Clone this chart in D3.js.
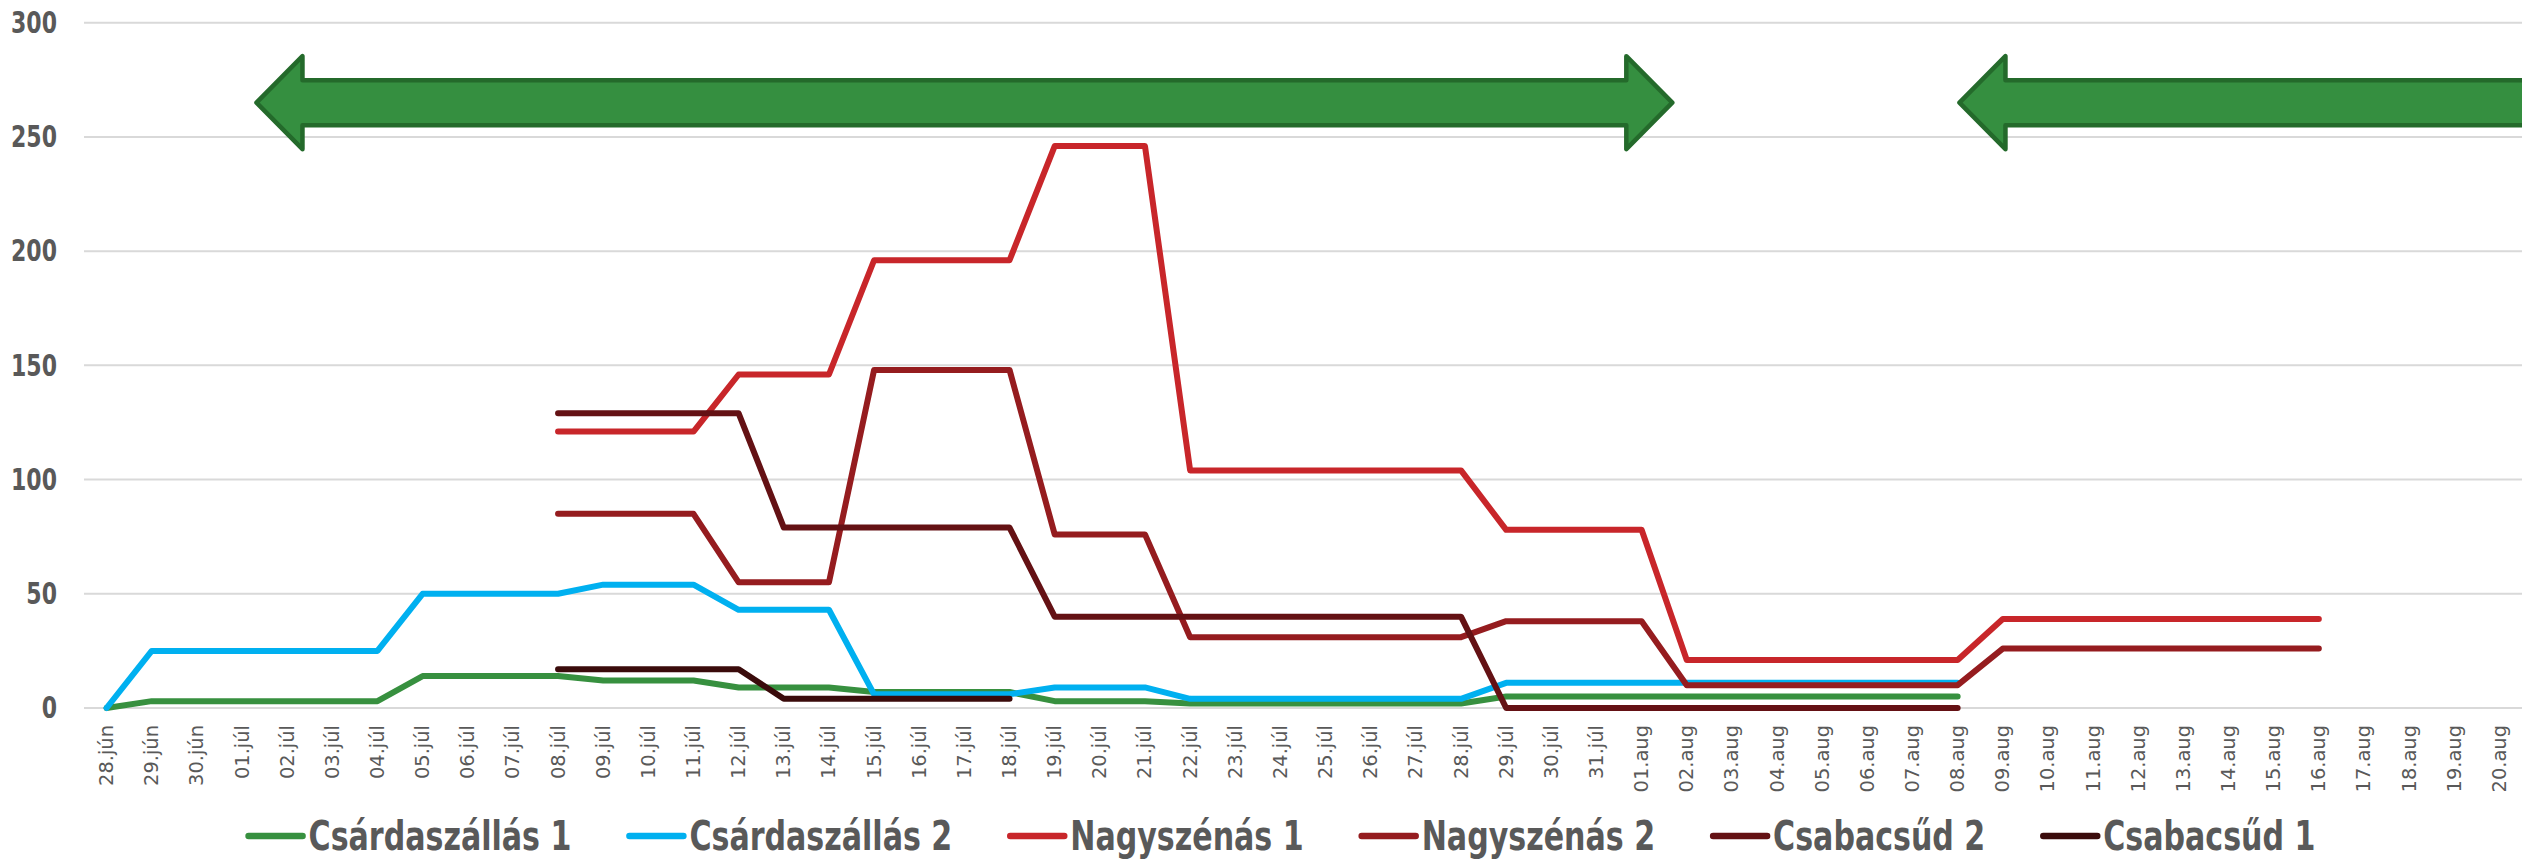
<!DOCTYPE html>
<html>
<head>
<meta charset="utf-8">
<script src="https://cdn.jsdelivr.net/npm/d3@7"></script>
<style>
	html, body { margin: 0; padding: 0; background: #ffffff; }
	svg { display: block; }
</style>
</head>
<body>
<div id="chart"></div>
<script>

// (data) Dates on the category axis
var categories = [
	"28.jún", "29.jún", "30.jún",
	"01.júl", "02.júl", "03.júl", "04.júl", "05.júl", "06.júl", "07.júl", "08.júl", "09.júl", "10.júl",
	"11.júl", "12.júl", "13.júl", "14.júl", "15.júl", "16.júl", "17.júl", "18.júl", "19.júl", "20.júl",
	"21.júl", "22.júl", "23.júl", "24.júl", "25.júl", "26.júl", "27.júl", "28.júl", "29.júl", "30.júl", "31.júl",
	"01.aug", "02.aug", "03.aug", "04.aug", "05.aug", "06.aug", "07.aug", "08.aug", "09.aug", "10.aug",
	"11.aug", "12.aug", "13.aug", "14.aug", "15.aug", "16.aug", "17.aug", "18.aug", "19.aug", "20.aug"
];

// (data) Series values, one per date (null = no reading)
var csardaszallas1 = [
	0, 3, 3,
	3, 3, 3, 3, 14, 14, 14, 14, 12, 12,
	12, 9, 9, 9, 7, 7, 7, 7, 3, 3,
	3, 2, 2, 2, 2, 2, 2, 2, 5, 5, 5,
	5, 5, 5, 5, 5, 5, 5, 5, null, null,
	null, null, null, null, null, null, null, null, null, null
];
var csardaszallas2 = [
	0, 25, 25,
	25, 25, 25, 25, 50, 50, 50, 50, 54, 54,
	54, 43, 43, 43, 6, 6, 6, 6, 9, 9,
	9, 4, 4, 4, 4, 4, 4, 4, 11, 11, 11,
	11, 11, 11, 11, 11, 11, 11, 11, null, null,
	null, null, null, null, null, null, null, null, null, null
];
var nagyszenas1 = [
	null, null, null,
	null, null, null, null, null, null, null, 121, 121, 121,
	121, 146, 146, 146, 196, 196, 196, 196, 246, 246,
	246, 104, 104, 104, 104, 104, 104, 104, 78, 78, 78,
	78, 21, 21, 21, 21, 21, 21, 21, 39, 39,
	39, 39, 39, 39, 39, 39, null, null, null, null
];
var nagyszenas2 = [
	null, null, null,
	null, null, null, null, null, null, null, 85, 85, 85,
	85, 55, 55, 55, 148, 148, 148, 148, 76, 76,
	76, 31, 31, 31, 31, 31, 31, 31, 38, 38, 38,
	38, 10, 10, 10, 10, 10, 10, 10, 26, 26,
	26, 26, 26, 26, 26, 26, null, null, null, null
];
var csabacsud2 = [
	null, null, null,
	null, null, null, null, null, null, null, 129, 129, 129,
	129, 129, 79, 79, 79, 79, 79, 79, 40, 40,
	40, 40, 40, 40, 40, 40, 40, 40, 0, 0, 0,
	0, 0, 0, 0, 0, 0, 0, 0, null, null,
	null, null, null, null, null, null, null, null, null, null
];
var csabacsud1 = [
	null, null, null,
	null, null, null, null, null, null, null, 17, 17, 17,
	17, 17, 4, 4, 4, 4, 4, 4, null, null,
	null, null, null, null, null, null, null, null, null, null, null,
	null, null, null, null, null, null, null, null, null, null,
	null, null, null, null, null, null, null, null, null, null
];

var seriesNames = ["Csárdaszállás 1", "Csárdaszállás 2", "Nagyszénás 1", "Nagyszénás 2", "Csabacsűd 2", "Csabacsűd 1"];
var seriesValues = [csardaszallas1, csardaszallas2, nagyszenas1, nagyszenas2, csabacsud2, csabacsud1];
var seriesColors = ["#37903f", "#00b0f0", "#c8262a", "#951c1f", "#641114", "#3a0b0b"];

// (data) Value axis ticks
var yTicks = [0, 50, 100, 150, 200, 250, 300];

// (data) Green period arrows, in category index units [from, to, double headed]
var arrows = [[3.32, 34.68, true], [41.04, 54.5, false]];

var width = 2522, height = 861;
var textColor = "#595959";
var gridColor = "#d9d9d9";
var boldFont = "'DejaVu Sans', sans-serif";

var svg = d3.select("#chart")
	.append("svg")
	.attr("width", width)
	.attr("height", height)
	.style("background", "#ffffff");

// (scales) Category band and value scale
var x = d3.scaleBand()
	.domain(categories)
	.range([84, width])
	.paddingInner(0)
	.paddingOuter(0);
var xc = function(i) { return x(categories[i]) + x.bandwidth() / 2; };
var xIdx = d3.scaleLinear()
	.domain([0, categories.length - 1])
	.range([xc(0), xc(categories.length - 1)]);
var y = d3.scaleLinear()
	.domain([0, 300])
	.range([708, 22.7]);

// (grid) Horizontal gridlines
svg.append("g")
	.selectAll("line")
	.data(yTicks)
	.enter()
	.append("line")
	.attr("x1", 84)
	.attr("x2", width)
	.attr("y1", function(d) { return y(d); })
	.attr("y2", function(d) { return y(d); })
	.attr("stroke", gridColor)
	.attr("stroke-width", 2);

// (y_axis) Value labels, narrowed with a horizontal scale
var yGroups = svg.append("g")
	.selectAll("g")
	.data(yTicks)
	.enter()
	.append("g");
var yLabels = yGroups.append("text")
	.attr("text-anchor", "end")
	.attr("dominant-baseline", "central")
	.attr("font-family", boldFont)
	.attr("font-weight", "bold")
	.attr("font-size", "30px")
	.attr("fill", textColor)
	.text(function(d) { return d; });
var kY = 46 / yLabels.filter(function(d) { return d === 300; }).node().getComputedTextLength();
yGroups.attr("transform", function(d) { return "translate(57," + y(d) + ") scale(" + kY + ",1)"; });

// (x_axis) Rotated date labels
var xLabels = svg.append("g")
	.selectAll("text")
	.data(categories)
	.enter()
	.append("text")
	.attr("transform", function(d, i) { return "translate(" + xc(i) + ",725) rotate(-90)"; })
	.attr("text-anchor", "end")
	.attr("dominant-baseline", "central")
	.attr("font-family", "'DejaVu Sans', sans-serif")
	.attr("font-size", "19px")
	.attr("fill", textColor)
	.text(function(d) { return d; });
var w0 = xLabels.node().getComputedTextLength();
xLabels.attr("font-size", (19 * 61 / w0) + "px");

// (lines) One path per series, gaps where there is no reading
var line = d3.line()
	.defined(function(d) { return d != null; })
	.x(function(d, i) { return xc(i); })
	.y(function(d) { return y(d); });

svg.append("g")
	.selectAll("path")
	.data(seriesValues)
	.enter()
	.append("path")
	.attr("d", function(d) { return line(d); })
	.attr("fill", "none")
	.attr("stroke", function(d, i) { return seriesColors[i]; })
	.attr("stroke-width", 6)
	.attr("stroke-linecap", "round")
	.attr("stroke-linejoin", "round");

// (arrows) Green block arrows over the plot
var yc = y(265), headHalf = 46.5, shaftHalf = 22.5, headLen = 46;
var arrowPoints = function(a) {
	var x0 = xIdx(a[0]), x1 = xIdx(a[1]);
	var p = [[x0, yc], [x0 + headLen, yc - headHalf], [x0 + headLen, yc - shaftHalf]];
	if (a[2]) {
		p.push([x1 - headLen, yc - shaftHalf], [x1 - headLen, yc - headHalf], [x1, yc],
			[x1 - headLen, yc + headHalf], [x1 - headLen, yc + shaftHalf]);
	} else {
		p.push([x1, yc - shaftHalf], [x1, yc + shaftHalf]);
	}
	p.push([x0 + headLen, yc + shaftHalf], [x0 + headLen, yc + headHalf]);
	return p.map(function(q) { return q.join(","); }).join(" ");
};
svg.append("g")
	.selectAll("polygon")
	.data(arrows)
	.enter()
	.append("polygon")
	.attr("points", arrowPoints)
	.attr("fill", "#358f40")
	.attr("stroke", "#246a2b")
	.attr("stroke-width", 4.5)
	.attr("stroke-linejoin", "round");

// (legend) Line swatch + bold name, centred under the chart
var legendY = 836, swatch = 54, gap = 6, entryGap = 58;
var items = svg.append("g")
	.selectAll("g")
	.data(seriesNames)
	.enter()
	.append("g");
items.append("line")
	.attr("x1", 0)
	.attr("x2", swatch)
	.attr("y1", legendY)
	.attr("y2", legendY)
	.attr("stroke", function(d, i) { return seriesColors[i]; })
	.attr("stroke-width", 6.5)
	.attr("stroke-linecap", "round");
var legendText = items.append("g")
	.append("text")
	.attr("font-family", boldFont)
	.attr("font-weight", "bold")
	.attr("font-size", "40px")
	.attr("fill", textColor)
	.text(function(d) { return d; });
var kL = 263 / legendText.node().getComputedTextLength();
items.select("g")
	.attr("transform", "translate(" + (swatch + gap) + "," + (legendY + 14) + ") scale(" + kL + ",1)");

var offsets = [], total = 0;
legendText.each(function(d, i) {
	var w = swatch + gap + this.getComputedTextLength() * kL;
	offsets.push(total);
	total += w + (i < seriesNames.length - 1 ? entryGap : 0);
});
var startX = 1282 - total / 2;
items.attr("transform", function(d, i) { return "translate(" + (startX + offsets[i]) + ",0)"; });

</script>
</body>
</html>
